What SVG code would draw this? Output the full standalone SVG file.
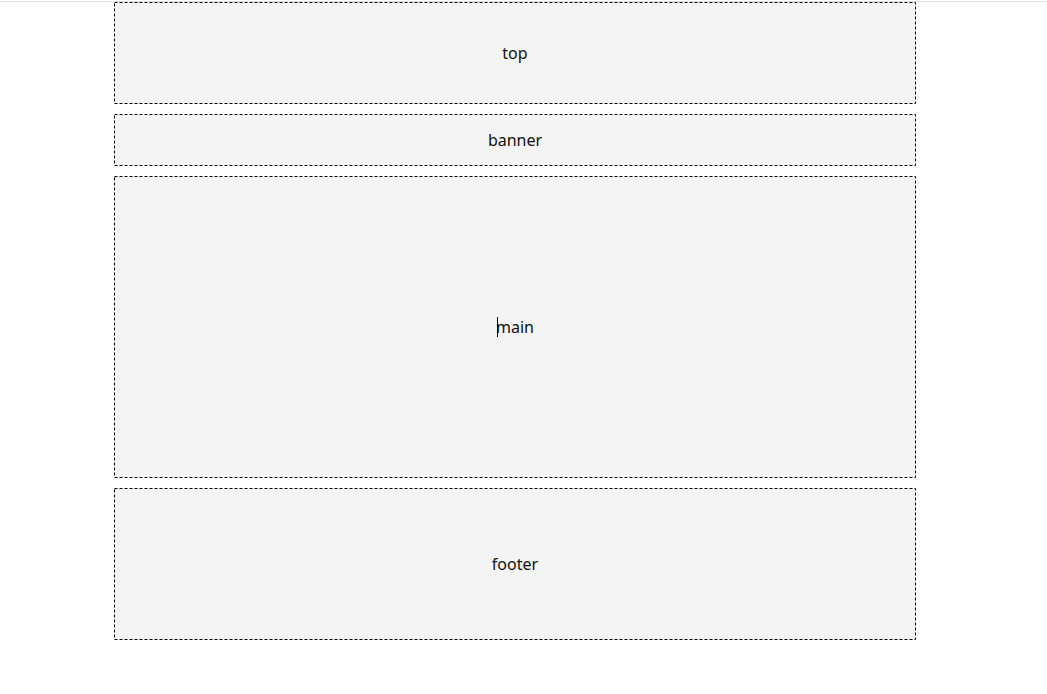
<svg xmlns="http://www.w3.org/2000/svg" width="1047" height="694" viewBox="0 0 1047 694">
<style>
.box{fill:#f4f4f4;stroke:#000;stroke-width:1;stroke-dasharray:3 2}
.lbl{font-family:"Noto Sans","DejaVu Sans",sans-serif;font-size:16px;fill:#111;text-anchor:middle;dominant-baseline:central}
</style>
<rect x="0" y="0" width="1047" height="694" fill="#fff"/>
<line x1="0" y1="1.5" x2="1047" y2="1.5" stroke="#e0e0e0" stroke-width="1"/>
<g id="top"><rect class="box" x="114.5" y="2.5" width="801" height="101"/><text class="lbl" x="515" y="53">top</text></g>
<g id="banner"><rect class="box" x="114.5" y="114.5" width="801" height="51"/><text class="lbl" x="515" y="140">banner</text></g>
<g id="main"><rect class="box" x="114.5" y="176.5" width="801" height="301"/><text class="lbl" x="515" y="327">main</text><line x1="497.5" y1="317" x2="497.5" y2="337" stroke="#000" stroke-width="1"/></g>
<g id="footer"><rect class="box" x="114.5" y="488.5" width="801" height="151"/><text class="lbl" x="515" y="564">footer</text></g>
<g id="connectors"/>
</svg>
